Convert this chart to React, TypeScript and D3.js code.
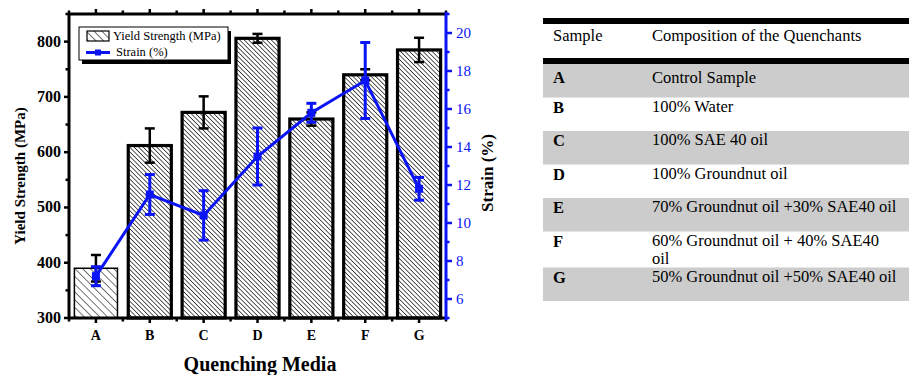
import React from 'react';
import * as d3 from 'd3';

// quenching media
const samples = ['A', 'B', 'C', 'D', 'E', 'F', 'G'];
// yield strength (MPa) and its error
const yieldStrength = [390, 612, 672, 806, 660, 740, 785];
const yieldErr = [24, 31, 29, 8, 12, 10, 22];
// strain (%) and its error
const strain = [7.2, 11.5, 10.4, 13.5, 15.8, 17.5, 11.8];
const strainErr = [0.5, 1.05, 1.3, 1.5, 0.5, 2.0, 0.6];

const yieldTicks = [300, 400, 500, 600, 700, 800];
const strainTicks = [6, 8, 10, 12, 14, 16, 18, 20];

// table on the right
const tableHeader = ['Sample', 'Composition of the Quenchants'];
const compositions = [
  ['Control Sample'],
  ['100% Water'],
  ['100% SAE 40 oil'],
  ['100% Groundnut oil'],
  ['70% Groundnut oil +30% SAE40 oil'],
  ['60% Groundnut oil + 40% SAE40', 'oil'],
  ['50% Groundnut oil +50% SAE40 oil'],
];

const FONT = '"Liberation Serif", "Times New Roman", serif';
const BLUE = '#0a14f5';

export default function App() {
  const left = 69, right = 446, top = 14, bottom = 318;

  const x = d3.scaleBand().domain(samples).range([left, right]).paddingInner(0.2).paddingOuter(0.1);
  const yL = d3.scaleLinear().domain([300, 850]).range([bottom, top]);
  const yR = d3.scaleLinear().domain([5, 21]).range([bottom, top]);
  const cx = (s) => x(s) + x.bandwidth() / 2;
  const step = x.step();

  const line = d3.line().x((d, i) => cx(samples[i])).y((d) => yR(d));

  // minor ticks
  const minorL = d3.range(350, 851, 100);
  const minorR = d3.range(5, 22, 2);
  const bounds = d3.range(0, samples.length + 1).map((i) => left + i * step);

  // table rows
  const tLeft = 543;
  const tFont = 16.5;
  const rowH = compositions.map((c) => (c.length > 1 ? 36 : 33.5));
  const rowTop = [];
  let acc = 64;
  rowH.forEach((h) => { rowTop.push(acc); acc += h; });

  return (
    <svg width={909} height={375} style={{ position: 'absolute', left: 0, top: 0, background: '#fff' }} fontFamily={FONT}>
      <defs>
        <pattern id="hatchDense" width={3.2} height={3.2} patternUnits="userSpaceOnUse" patternTransform="rotate(-45)">
          <rect width={3.2} height={3.2} fill="#fff" />
          <line x1={0} y1={0} x2={0} y2={3.2} stroke="#000" strokeWidth={1.3} />
        </pattern>
        <pattern id="hatchSparse" width={5.5} height={5.5} patternUnits="userSpaceOnUse" patternTransform="rotate(-45)">
          <rect width={5.5} height={5.5} fill="#fff" />
          <line x1={0} y1={0} x2={0} y2={5.5} stroke="#000" strokeWidth={1.1} />
        </pattern>
      </defs>

      {/* bars */}
      {samples.map((s, i) => (
        <rect key={s} x={x(s)} y={yL(yieldStrength[i])} width={x.bandwidth()} height={bottom - yL(yieldStrength[i])}
          fill={i === 0 ? 'url(#hatchSparse)' : 'url(#hatchDense)'} stroke="#000" strokeWidth={i === 0 ? 1.5 : 3.2} />
      ))}

      {/* yield error bars */}
      {samples.map((s, i) => {
        const c = cx(s);
        const y1 = yL(yieldStrength[i] + yieldErr[i]);
        const y0 = yL(yieldStrength[i] - yieldErr[i]);
        return (
          <g key={s} stroke="#000" strokeWidth={2.5}>
            <line x1={c} x2={c} y1={y1} y2={y0} />
            <line x1={c - 5} x2={c + 5} y1={y1} y2={y1} />
            <line x1={c - 5} x2={c + 5} y1={y0} y2={y0} />
          </g>
        );
      })}

      {/* frame */}
      <line x1={left} x2={right} y1={top} y2={top} stroke="#000" strokeWidth={3} />
      <line x1={left} x2={right} y1={bottom} y2={bottom} stroke="#000" strokeWidth={3} />
      <line x1={left} x2={left} y1={top} y2={bottom} stroke="#000" strokeWidth={3} />

      {/* x ticks */}
      {samples.map((s) => (
        <g key={s}>
          <line x1={cx(s)} x2={cx(s)} y1={bottom} y2={bottom + 5} stroke="#000" strokeWidth={2.5} />
          <line x1={cx(s)} x2={cx(s)} y1={top} y2={top - 5} stroke="#000" strokeWidth={2.5} />
          <text x={cx(s)} y={340} textAnchor="middle" fontWeight="bold" fontSize={14}>{s}</text>
        </g>
      ))}
      {bounds.map((b, i) => (
        <g key={i}>
          <line x1={b} x2={b} y1={bottom} y2={bottom + 3.5} stroke="#000" strokeWidth={2.5} />
          <line x1={b} x2={b} y1={top} y2={top - 3.5} stroke="#000" strokeWidth={2.5} />
        </g>
      ))}

      {/* left axis */}
      {yieldTicks.map((t) => (
        <g key={t}>
          <line x1={left} x2={left - 5} y1={yL(t)} y2={yL(t)} stroke="#000" strokeWidth={2.5} />
          <text x={61} y={yL(t) + 5} textAnchor="end" fontWeight="bold" fontSize={16}>{t}</text>
        </g>
      ))}
      {minorL.map((t) => (
        <line key={t} x1={left} x2={left - 3.5} y1={yL(t)} y2={yL(t)} stroke="#000" strokeWidth={2.5} />
      ))}
      <text transform={`translate(25,176) rotate(-90)`} textAnchor="middle" fontWeight="bold" fontSize={15}>Yield Strength (MPa)</text>

      {/* right axis */}
      <line x1={right} x2={right} y1={top - 2} y2={bottom + 2} stroke={BLUE} strokeWidth={3} />
      {strainTicks.map((t) => (
        <g key={t}>
          <line x1={right} x2={right + 6} y1={yR(t)} y2={yR(t)} stroke={BLUE} strokeWidth={2.5} />
          <text x={456} y={yR(t) + 5} fill={BLUE} fontSize={15}>{t}</text>
        </g>
      ))}
      {minorR.map((t) => (
        <line key={t} x1={right} x2={right + 3.5} y1={yR(t)} y2={yR(t)} stroke={BLUE} strokeWidth={2.5} />
      ))}
      <text transform={`translate(493,173) rotate(-90)`} textAnchor="middle" fontWeight="bold" fontSize={17}>Strain (%)</text>

      {/* strain line */}
      <path d={line(strain)} fill="none" stroke={BLUE} strokeWidth={3} />
      {samples.map((s, i) => {
        const c = cx(s);
        const y1 = yR(strain[i] + strainErr[i]);
        const y0 = yR(strain[i] - strainErr[i]);
        return (
          <g key={s} stroke={BLUE} strokeWidth={3}>
            <line x1={c} x2={c} y1={y1} y2={y0} />
            <line x1={c - 5} x2={c + 5} y1={y1} y2={y1} />
            <line x1={c - 5} x2={c + 5} y1={y0} y2={y0} />
            <rect x={c - 4} y={yR(strain[i]) - 4} width={8} height={8} fill={BLUE} stroke="none" />
          </g>
        );
      })}

      {/* legend */}
      <rect x={82} y={31} width={149} height={33} fill="#000" />
      <rect x={79} y={27} width={149} height={33} fill="#fff" stroke="#000" strokeWidth={1} />
      <rect x={87} y={31} width={22} height={10} fill="url(#hatchSparse)" stroke="#000" strokeWidth={1.2} />
      <text x={113} y={40} fontSize={12.5}>Yield Strength (MPa)</text>
      <line x1={86} x2={110} y1={52.5} y2={52.5} stroke={BLUE} strokeWidth={3} />
      <rect x={95} y={49.5} width={6} height={6} fill={BLUE} />
      <text x={116} y={56} fontSize={12.5}>Strain (%)</text>

      <text x={260} y={371} textAnchor="middle" fontWeight="bold" fontSize={20}>Quenching Media</text>

      {/* table */}
      <rect x={tLeft} y={18} width={909 - tLeft} height={6} fill="#000" />
      <text x={553} y={41} fontSize={tFont}>{tableHeader[0]}</text>
      <text x={652} y={41} fontSize={tFont}>{tableHeader[1]}</text>
      <rect x={tLeft} y={58} width={909 - tLeft} height={6} fill="#000" />
      {samples.map((s, i) => (
        <g key={s}>
          {i % 2 === 0 && <rect x={tLeft} y={rowTop[i]} width={909 - tLeft} height={rowH[i]} fill="#cccccc" />}
          <text x={553} y={rowTop[i] + (i === 0 ? 19 : 15)} fontSize={tFont} fontWeight="bold">{s}</text>
          {compositions[i].map((ln, j) => (
            <text key={j} x={652} y={rowTop[i] + (i === 0 ? 19 : 14) + j * 18.5} fontSize={tFont}>{ln}</text>
          ))}
        </g>
      ))}
    </svg>
  );
}
